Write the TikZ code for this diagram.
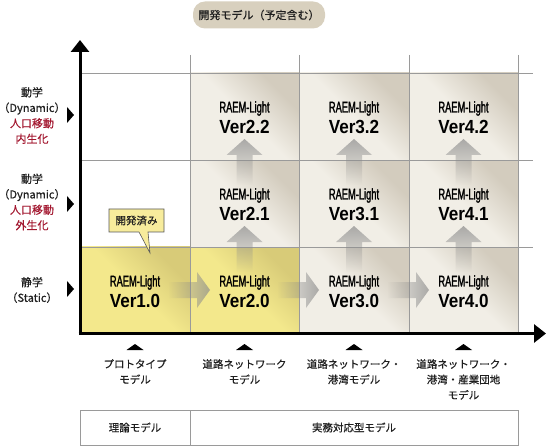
\documentclass[tikz,border=0pt]{standalone}
\usepackage{fontspec}
\usetikzlibrary{fadings,calc,arrows.meta}
\newfontfamily\jp[FakeBold=0.5]{Noto Sans CJK JP}
\newfontfamily\raem[FakeStretch=0.6,FakeBold=1.5]{Liberation Sans}
\newfontfamily\verf[FakeStretch=0.9]{Liberation Sans}
\definecolor{beigeL}{HTML}{F1EEE6}
\definecolor{beigeD}{HTML}{D3CCBE}
\definecolor{yelL}{HTML}{F3E88C}
\definecolor{yelD}{HTML}{D8CB78}
\definecolor{pillc}{HTML}{D8D0BE}
\definecolor{redtxt}{HTML}{A3172F}
\definecolor{gridc}{HTML}{9A9A9A}
\definecolor{callfill}{HTML}{F7EC9C}
\definecolor{arrc}{HTML}{8C8C8C}
\pgfdeclareverticalshading{beigesh}{100bp}{color(0bp)=(beigeL); color(50bp)=(beigeL); color(72bp)=(beigeD); color(100bp)=(beigeD)}
\pgfdeclareverticalshading{yelsh}{100bp}{color(0bp)=(yelL); color(50bp)=(yelL); color(72bp)=(yelD); color(100bp)=(yelD)}
\tikzfading[name=fadeinright, left color=transparent!100, right color=transparent!0]
\tikzfading[name=fadeinup, bottom color=transparent!100, top color=transparent!0]
\tikzset{
  cellB/.style={shade, shading=beigesh, shading angle=-45, inner sep=0pt, outer sep=0pt, draw=none},
  cellY/.style={shade, shading=yelsh, shading angle=-45, inner sep=0pt, outer sep=0pt, draw=none},
  raemt/.style={font=\raem\fontsize{15.5}{15.5}\selectfont, inner sep=0pt, anchor=base},
  vert/.style={font=\verf\bfseries\fontsize{19}{19}\selectfont, inner sep=0pt, anchor=base},
  gridl/.style={draw=gridc, line width=0.8pt},
  rowlab/.style={font=\jp\fontsize{11}{15.5}\selectfont, align=center, inner sep=0pt, text=black!88},
  botlab/.style={font=\jp\fontsize{10.5}{15.5}\selectfont, align=center, inner sep=0pt, anchor=north, text=black!88},
  tabcell/.style={draw=gridc, line width=0.8pt, font=\jp\fontsize{10.5}{12}\selectfont, inner sep=0pt, minimum height=35pt, text=black!88},
  arrowfill/.style={fill=arrc, fill opacity=0.7},
  axis/.style={line width=3pt, -{Triangle[length=12pt,width=18pt]}}
}
\newcommand\fatright[1]{\fill[arrowfill, path fading=fadeinright, shift={(#1)}] (0,0) -- (-13,-18) -- (-13,-8) -- (-42,-8) -- (-42,8) -- (-13,8) -- (-13,18) -- cycle;}
\newcommand\fatup[1]{\fill[arrowfill, path fading=fadeinup, shift={(#1)}] (0,0) -- (18,16) -- (8,16) -- (8,46) -- (-8,46) -- (-8,16) -- (-18,16) -- cycle;}
\begin{document}
\begin{tikzpicture}[x=1pt,y=-1pt]
\useasboundingbox[fill=white] (0,0) rectangle (546,446);
% title pill
\node[fill=pillc, rounded corners=12pt, minimum width=132pt, minimum height=27pt, inner sep=0pt, font=\jp\fontsize{11}{12}\selectfont, text=black!88] (title) at (259,15) {開発モデル（予定含む）};
% cells
\node[cellY, minimum width=110pt, minimum height=86pt] (c10) at (135,290) {};
\node[cellY, minimum width=109pt, minimum height=86pt] (c20) at (244.5,290) {};
\node[cellB, minimum width=109pt, minimum height=87pt] (c21) at (244.5,203.5) {};
\node[cellB, minimum width=109pt, minimum height=87pt] (c22) at (244.5,116.5) {};
\node[cellB, minimum width=110pt, minimum height=86pt] (c30) at (354,290) {};
\node[cellB, minimum width=110pt, minimum height=87pt] (c31) at (354,203.5) {};
\node[cellB, minimum width=110pt, minimum height=87pt] (c32) at (354,116.5) {};
\node[cellB, minimum width=109pt, minimum height=86pt] (c40) at (463.5,290) {};
\node[cellB, minimum width=109pt, minimum height=87pt] (c41) at (463.5,203.5) {};
\node[cellB, minimum width=109pt, minimum height=87pt] (c42) at (463.5,116.5) {};
% grid
\foreach \yy in {73,160,247} \draw[gridl] (80,\yy) -- (533,\yy);
\foreach \xx in {190,299,409,518} \draw[gridl] (\xx,55) -- (\xx,333);
% fat arrows
\fatright{$(c20.west)+(20,0)$}
\fatright{$(c30.west)+(20,0)$}
\fatright{$(c40.west)+(20,0)$}
\foreach \c in {2,3,4}{
  \fatup{$(c\c1.north)+(0,-21)$}
  \fatup{$(c\c0.north)+(0,-21)$}
}
% cell texts
\foreach \c/\r in {1/0,2/0,2/1,2/2,3/0,3/1,3/2,4/0,4/1,4/2}{
  \node[raemt] (ta\c\r) at ($(c\c\r.north)+(0,39.5)$) {RAEM-Light};
  \node[vert] (tb\c\r) at ($(c\c\r.north)+(0,60.5)$) {Ver\c.\r};
}
% callout
\filldraw[fill=callfill, draw=black!65, line width=0.6pt] (109,209) -- (164,209) -- (164,232) -- (148,232) -- (150,253) -- (139,232) -- (109,232) -- cycle;
\node[font=\jp\fontsize{10.5}{12}\selectfont, inner sep=0pt, text=black!88] (done) at (136.5,220.5) {開発済み};
% axes
\coordinate (origin) at (80,333.5);
\coordinate (ytop) at (80,40);
\coordinate (xend) at (546,333.5);
\draw[axis] (80,335) -- (ytop);
\draw[axis] (78.5,333.5) -- (xend);
% row labels
\node[rowlab] (r2) at (32,115.5) {動学\\（Dynamic）\\\textcolor{redtxt}{人口移動}\\\textcolor{redtxt}{内生化}};
\node[rowlab] (r1) at (32,202) {動学\\（Dynamic）\\\textcolor{redtxt}{人口移動}\\\textcolor{redtxt}{外生化}};
\node[rowlab] (r0) at (32,290) {静学\\（Static）};
\foreach \yy in {115,204,289} \fill (67,\yy-8) -- (74,\yy) -- (67,\yy+8) -- cycle;
% bottom markers and labels
\foreach \xx in {135,244.5,354,463.5} \fill (\xx-8.5,350) -- (\xx,344) -- (\xx+8.5,350) -- cycle;
\node[botlab] (b1) at (135,359) {プロトタイプ\\モデル};
\node[botlab] (b2) at (244.5,359) {道路ネットワーク\\モデル};
\node[botlab] (b3) at (354,359) {道路ネットワーク・\\港湾モデル};
\node[botlab] (b4) at (463.5,359) {道路ネットワーク・\\港湾・産業団地\\モデル};
% table
\node[tabcell, minimum width=110pt] (theory) at (135,427.5) {理論モデル};
\node[tabcell, minimum width=328pt] (practice) at (354,427.5) {実務対応型モデル};
\end{tikzpicture}
\end{document}
